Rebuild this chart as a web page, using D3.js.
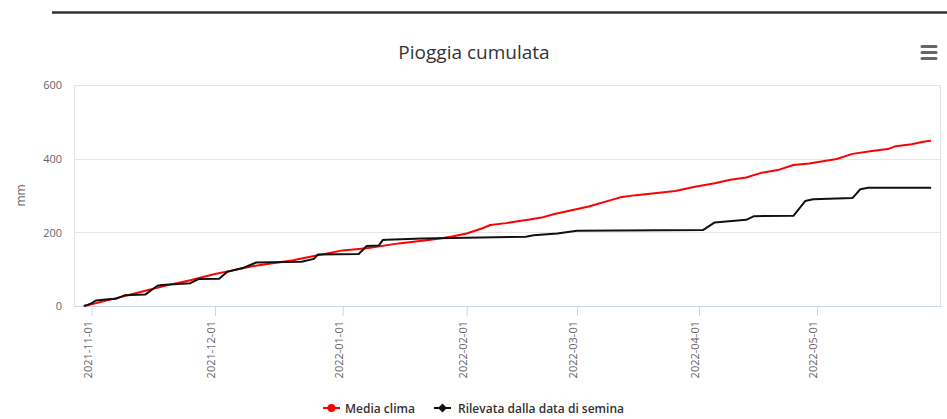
<!DOCTYPE html>
<html>
<head>
<meta charset="utf-8">
<script src="https://cdn.jsdelivr.net/npm/d3@7"></script>
<style>
  body { margin: 0; background: #fff; }
  svg { display: block; font-family: "Open Sans", "DejaVu Sans", sans-serif; }
</style>
</head>
<body>
<svg id="chart" width="947" height="419"></svg>
<script>
// cumulative rainfall, climate average (red)
let mediaDates = ["2021-10-30", "2021-11-01", "2021-11-05", "2021-11-10", "2021-11-15", "2021-11-20",
    "2021-11-25", "2021-12-01", "2021-12-05", "2021-12-10", "2021-12-15", "2021-12-20", "2021-12-22",
    "2022-01-01", "2022-01-07", "2022-01-15", "2022-01-24", "2022-01-28", "2022-02-01", "2022-02-05",
    "2022-02-07", "2022-02-11", "2022-02-17", "2022-02-20", "2022-02-23", "2022-03-04", "2022-03-12",
    "2022-03-16", "2022-03-26", "2022-03-31", "2022-04-05", "2022-04-09", "2022-04-13", "2022-04-17",
    "2022-04-21", "2022-04-25", "2022-04-29", "2022-05-06", "2022-05-10", "2022-05-15", "2022-05-19",
    "2022-05-21", "2022-05-25", "2022-05-28", "2022-05-30"];
let mediaValues = [0, 5, 16, 30, 44, 58,
    70, 87, 96, 108, 116, 124, 129,
    151, 157, 170, 181, 188, 197, 211,
    220, 225, 235, 240, 249, 270, 295,
    301, 312, 324, 333, 343, 349, 362,
    369, 383, 387, 399, 413, 421, 426,
    434, 439, 446, 449];

// cumulative rainfall measured since sowing (black)
let rilevataDates = ["2021-10-30", "2021-10-31", "2021-11-01", "2021-11-02", "2021-11-05", "2021-11-07",
    "2021-11-09", "2021-11-14", "2021-11-17", "2021-11-18", "2021-11-25", "2021-11-27", "2021-12-02",
    "2021-12-04", "2021-12-08", "2021-12-11", "2021-12-22", "2021-12-25", "2021-12-26", "2022-01-05",
    "2022-01-07", "2022-01-10", "2022-01-11", "2022-01-12", "2022-01-21", "2022-02-16", "2022-02-18",
    "2022-02-24", "2022-03-01", "2022-04-02", "2022-04-05", "2022-04-13", "2022-04-15", "2022-04-25",
    "2022-04-28", "2022-04-30", "2022-05-10", "2022-05-12", "2022-05-14", "2022-05-30"];
let rilevataValues = [0, 3, 8, 15, 18, 20,
    29, 31, 55, 57, 62, 73, 74,
    93, 104, 118, 120, 128, 140, 141,
    163, 164, 179, 180, 183, 188, 192,
    197, 204, 206, 227, 234, 244, 245,
    285, 290, 293, 317, 321, 321];

let yTicks = [0, 200, 400, 600];
let xTicks = ["2021-11-01", "2021-12-01", "2022-01-01", "2022-02-01", "2022-03-01", "2022-04-01", "2022-05-01"];

let parse = d3.timeParse("%Y-%m-%d");
let fmt = d3.timeFormat("%Y-%m-%d");

let svg = d3.select("#chart");

// plot area
let plotLeft = 74, plotRight = 941, plotTop = 85, plotBottom = 306;

// the month ticks in the original are not evenly spaced, so use a piecewise time scale
let x = d3.scaleTime()
    .domain([new Date(2021, 9, 27, 12)].concat(xTicks.map(parse), [new Date(2022, 5, 1, 12)]))
    .range([plotLeft, 91.7, 215, 342.7, 466.7, 577, 699, 817, plotRight]);
let y = d3.scaleLinear().domain([0, 600]).range([plotBottom, plotTop]);

// top separator line of the page
svg.append("line")
    .attr("x1", 52).attr("x2", 947)
    .attr("y1", 12.5).attr("y2", 12.5)
    .attr("stroke", "#333").attr("stroke-width", 2.5);

// title
svg.append("text")
    .attr("x", 474).attr("y", 59)
    .attr("text-anchor", "middle")
    .attr("fill", "#333")
    .style("font-size", "19px")
    .text("Pioggia cumulata");

// hamburger menu
[46.5, 52.5, 58.5].forEach(function (yy) {
    svg.append("line")
        .attr("x1", 922).attr("x2", 936)
        .attr("y1", yy).attr("y2", yy)
        .attr("stroke", "#666").attr("stroke-width", 3)
        .attr("stroke-linecap", "round");
});

// gridlines
svg.append("g")
    .selectAll("line")
    .data(yTicks.filter(d => d > 0))
    .join("line")
    .attr("x1", plotLeft).attr("x2", plotRight)
    .attr("y1", d => Math.round(y(d)) + 0.5)
    .attr("y2", d => Math.round(y(d)) + 0.5)
    .attr("stroke", "#e6e6e6");

// plot border
svg.append("rect")
    .attr("x", plotLeft + 0.5).attr("y", plotTop + 0.5)
    .attr("width", plotRight - plotLeft - 1).attr("height", plotBottom - plotTop)
    .attr("fill", "none")
    .attr("stroke", "#e3e3e3");

// y axis labels
let yAxis = d3.axisLeft(y).tickValues(yTicks).tickSize(0).tickPadding(12);
let yg = svg.append("g").attr("transform", "translate(" + plotLeft + ",0)").call(yAxis);
yg.select(".domain").remove();
yg.selectAll("text")
    .attr("fill", "#666")
    .attr("dy", "0.35em")
    .style("font-size", "11px")
    .style("font-family", "'Open Sans', sans-serif");

svg.append("text")
    .attr("transform", "translate(25," + ((plotTop + plotBottom) / 2) + ") rotate(-90)")
    .attr("text-anchor", "middle")
    .attr("fill", "#666")
    .style("font-size", "12px")
    .text("mm");

// x axis
let xAxis = d3.axisBottom(x)
    .tickValues(xTicks.map(parse))
    .tickFormat(fmt)
    .tickSize(10)
    .tickSizeOuter(0);
let xg = svg.append("g").attr("transform", "translate(0," + plotBottom + ")").call(xAxis);
xg.select(".domain").attr("stroke", "#ccd6eb");
xg.selectAll(".tick line").attr("stroke", "#ccd6eb");
xg.selectAll("text")
    .attr("fill", "#666")
    .style("font-size", "11px")
    .style("font-family", "'Open Sans', sans-serif")
    .attr("text-anchor", "end")
    .attr("transform", "translate(-4,15) rotate(-90)")
    .attr("x", 0).attr("y", 0).attr("dy", "0.35em");

// lines
let line = d3.line()
    .x(d => x(d[0]))
    .y(d => y(d[1]));

let mediaData = mediaDates.map((d, i) => [parse(d), mediaValues[i]]);
let rilevataData = rilevataDates.map((d, i) => [parse(d), rilevataValues[i]]);

svg.append("path")
    .attr("fill", "none")
    .attr("stroke", "#ff0000")
    .attr("stroke-width", 2)
    .attr("stroke-linejoin", "round")
    .attr("d", line(mediaData));

svg.append("path")
    .attr("fill", "none")
    .attr("stroke", "#111")
    .attr("stroke-width", 2)
    .attr("stroke-linejoin", "round")
    .attr("d", line(rilevataData));

// legend
let ly = 408;
let leg1 = svg.append("g").attr("transform", "translate(323," + ly + ")");
leg1.append("line").attr("x1", 0).attr("x2", 17).attr("stroke", "#ff0000").attr("stroke-width", 2);
leg1.append("circle").attr("cx", 8.5).attr("cy", 0).attr("r", 4).attr("fill", "#ff0000");
leg1.append("text").attr("x", 22).attr("y", 4.5)
    .attr("fill", "#333").style("font-size", "12px").style("font-weight", 600)
    .text("Media clima");

let leg2 = svg.append("g").attr("transform", "translate(434," + ly + ")");
leg2.append("line").attr("x1", 0).attr("x2", 17).attr("stroke", "#111").attr("stroke-width", 2);
leg2.append("path").attr("d", "M8.5,-4.5L13,0L8.5,4.5L4,0Z").attr("fill", "#111");
leg2.append("text").attr("x", 24).attr("y", 4.5)
    .attr("fill", "#333").style("font-size", "12px").style("font-weight", 600)
    .text("Rilevata dalla data di semina");
</script>
</body>
</html>
